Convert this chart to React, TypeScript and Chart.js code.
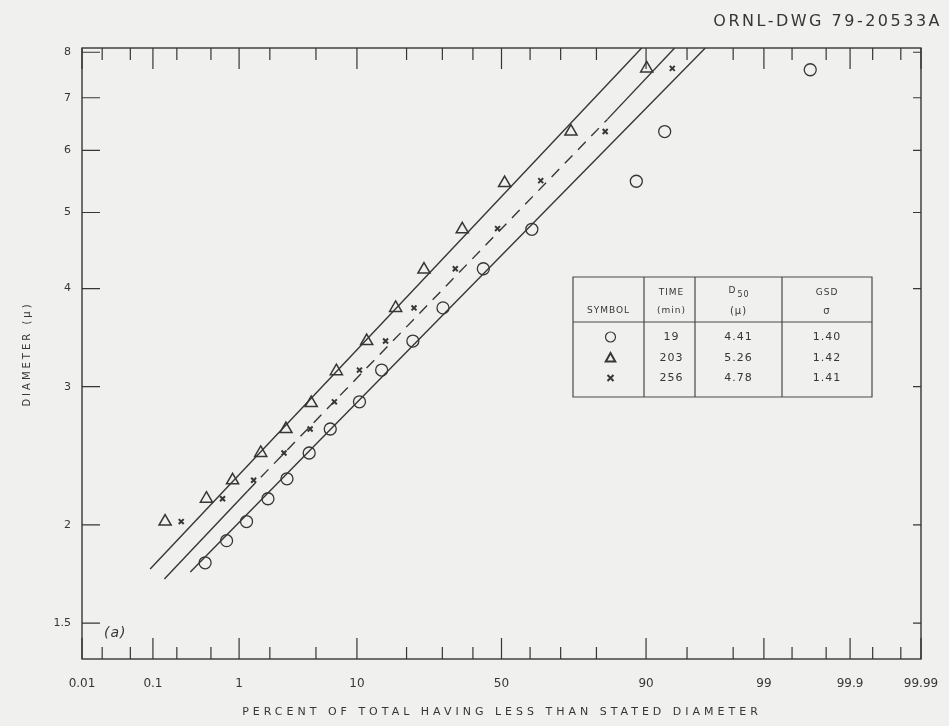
import React, { useEffect, useRef } from 'react';
import { Chart, registerables } from 'chart.js';

Chart.register(...registerables);

// ---- axis ticks ----
const xTickPercents = [0.01, 0.1, 1, 10, 50, 90, 99, 99.9, 99.99];
const xTickLabels = ['0.01', '0.1', '1', '10', '50', '90', '99', '99.9', '99.99'];
const xMinorPercents = [0.02, 0.05, 0.2, 0.5, 2, 5, 20, 30, 40, 60, 70, 80, 95, 98, 99.5, 99.8, 99.95, 99.98];
const yTickValues = [1.5, 2, 3, 4, 5, 6, 7, 8];
const yTickLabels = ['1.5', '2', '3', '4', '5', '6', '7', '8'];

// ---- measured points (percent less than, diameter in microns) ----
const circlePercent = [0.43, 0.74, 1.19, 1.92, 2.86, 4.41, 6.45, 10.4, 14.4, 21.6, 30.2, 43.6, 60.6, 88.4, 92.6, 99.69];
const circleDiameter = [1.79, 1.91, 2.02, 2.16, 2.29, 2.47, 2.65, 2.87, 3.15, 3.43, 3.78, 4.24, 4.76, 5.48, 6.34, 7.6];
const trianglePercent = [0.143, 0.445, 0.856, 1.64, 2.8, 4.58, 7.16, 11.6, 17.4, 24.6, 36.4, 51.1, 73.1, 90.1];
const triangleDiameter = [2.02, 2.16, 2.28, 2.47, 2.65, 2.86, 3.14, 3.43, 3.78, 4.23, 4.76, 5.45, 6.34, 7.63];
const crossPercent = [0.226, 0.67, 1.4, 2.69, 4.49, 6.92, 10.4, 15.2, 21.9, 34.1, 48.6, 63.6, 82.1, 93.5];
const crossDiameter = [2.02, 2.16, 2.28, 2.47, 2.65, 2.87, 3.15, 3.43, 3.78, 4.24, 4.77, 5.49, 6.34, 7.63];

// ---- fitted lines (end points) ----
const triLinePercent = [0.092, 89.3];
const triLineDiameter = [1.758, 8.1];
const crossLinePercent = [0.14, 1.22, 82.6, 93.76];
const crossLineDiameter = [1.707, 2.21, 6.57, 8.1];
const circleLinePercent = [0.29, 96.46];
const circleLineDiameter = [1.742, 8.1];

// ---- table ----
const tableTimes = ['19', '203', '256'];
const tableD50 = ['4.41', '5.26', '4.78'];
const tableGSD = ['1.40', '1.42', '1.41'];
const tableSymbols = ['circle', 'triangle', 'crossRot'];

function probit(percent: number): number {
  const p = percent / 100;
  const a = [-3.969683028665376e1, 2.209460984245205e2, -2.759285104469687e2, 1.38357751867269e2, -3.066479806614716e1, 2.506628277459239];
  const b = [-5.447609879822406e1, 1.615858368580409e2, -1.556989798598866e2, 6.680131188771972e1, -1.328068155288572e1];
  const c = [-7.784894002430293e-3, -3.223964580411365e-1, -2.400758277161838, -2.549732539343734, 4.374664141464968, 2.938163982698783];
  const d = [7.784695709041462e-3, 3.224671290700398e-1, 2.445134137142996, 3.754408661907416];
  const plow = 0.02425;
  const phigh = 1 - plow;
  let q: number;
  let r: number;
  if (p < plow) {
    q = Math.sqrt(-2 * Math.log(p));
    return (((((c[0] * q + c[1]) * q + c[2]) * q + c[3]) * q + c[4]) * q + c[5]) / ((((d[0] * q + d[1]) * q + d[2]) * q + d[3]) * q + 1);
  }
  if (p <= phigh) {
    q = p - 0.5;
    r = q * q;
    return ((((((a[0] * r + a[1]) * r + a[2]) * r + a[3]) * r + a[4]) * r + a[5]) * q) / (((((b[0] * r + b[1]) * r + b[2]) * r + b[3]) * r + b[4]) * r + 1);
  }
  q = Math.sqrt(-2 * Math.log(1 - p));
  return -(((((c[0] * q + c[1]) * q + c[2]) * q + c[3]) * q + c[4]) * q + c[5]) / ((((d[0] * q + d[1]) * q + d[2]) * q + d[3]) * q + 1);
}

const toPoints = (ps: number[], ds: number[]) => ps.map((p, i) => ({ x: probit(p), y: ds[i] }));

const INK = '#363636';
const BG = '#f0f0ee';

function drawMarker(ctx: CanvasRenderingContext2D, style: string, x: number, y: number, r: number) {
  ctx.beginPath();
  if (style === 'circle') {
    ctx.arc(x, y, r, 0, Math.PI * 2);
    ctx.stroke();
  } else if (style === 'triangle') {
    ctx.moveTo(x, y - r);
    ctx.lineTo(x + r * 0.95, y + r * 0.7);
    ctx.lineTo(x - r * 0.95, y + r * 0.7);
    ctx.closePath();
    ctx.stroke();
  } else {
    ctx.moveTo(x - r, y - r); ctx.lineTo(x + r, y + r);
    ctx.moveTo(x + r, y - r); ctx.lineTo(x - r, y + r);
    ctx.stroke();
  }
}

const decorPlugin = {
  id: 'decor',
  beforeDraw(chart: any) {
    const { ctx, width, height } = chart;
    ctx.save();
    ctx.fillStyle = BG;
    ctx.fillRect(0, 0, width, height);
    ctx.restore();
  },
  beforeDatasetsDraw(chart: any) {
    const { ctx, chartArea: ca, scales } = chart;
    const xs = scales.x;
    const ys = scales.y;
    ctx.save();
    ctx.strokeStyle = INK;
    ctx.lineWidth = 1.4;
    ctx.strokeRect(ca.left, ca.top, ca.right - ca.left, ca.bottom - ca.top);
    ctx.lineWidth = 1.2;
    ctx.beginPath();
    const xTick = (p: number, len: number) => {
      const px = xs.getPixelForValue(probit(p));
      ctx.moveTo(px, ca.bottom);
      ctx.lineTo(px, ca.bottom - len);
      ctx.moveTo(px, ca.top);
      ctx.lineTo(px, ca.top + len);
    };
    xTickPercents.forEach((p) => xTick(p, 21));
    xMinorPercents.forEach((p) => xTick(p, 12));
    yTickValues.forEach((v) => {
      const py = ys.getPixelForValue(v);
      ctx.moveTo(ca.left, py);
      ctx.lineTo(ca.left + 18, py);
      ctx.moveTo(ca.right, py);
      ctx.lineTo(ca.right - 8, py);
    });
    ctx.stroke();

    // table
    const L = 573, C1 = 644, C2 = 695, C3 = 782, R = 872, T = 277, H = 322, B = 397;
    ctx.lineWidth = 1.2;
    ctx.strokeStyle = '#4a4a4a';
    ctx.beginPath();
    ctx.rect(L, T, R - L, B - T);
    ctx.moveTo(L, H); ctx.lineTo(R, H);
    [C1, C2, C3].forEach((cx) => { ctx.moveTo(cx, T); ctx.lineTo(cx, B); });
    ctx.stroke();

    ctx.fillStyle = INK;
    ctx.textAlign = 'center';
    ctx.textBaseline = 'middle';
    (ctx as any).letterSpacing = '1px';
    ctx.font = '9px "DejaVu Sans"';
    ctx.fillText('SYMBOL', (L + C1) / 2, 311);
    ctx.fillText('TIME', (C1 + C2) / 2 + 2, 293);
    ctx.fillText('(min)', (C1 + C2) / 2 + 2, 311);
    ctx.fillText('D', (C2 + C3) / 2 - 6, 291);
    ctx.font = '8px "DejaVu Sans"';
    ctx.fillText('50', (C2 + C3) / 2 + 5, 295);
    ctx.font = '10px "DejaVu Sans"';
    ctx.fillText('(μ)', (C2 + C3) / 2, 311);
    ctx.font = '9px "DejaVu Sans"';
    ctx.fillText('GSD', (C3 + R) / 2, 293);
    ctx.font = '10px "DejaVu Sans"';
    ctx.fillText('σ', (C3 + R) / 2, 311);
    ctx.font = '11px "DejaVu Sans"';
    const rows = [337, 358, 378];
    rows.forEach((ry, i) => {
      ctx.fillText(tableTimes[i], (C1 + C2) / 2 + 2, ry);
      ctx.fillText(tableD50[i], (C2 + C3) / 2, ry);
      ctx.fillText(tableGSD[i], (C3 + R) / 2, ry);
    });
    (ctx as any).letterSpacing = '0px';
    ctx.restore();
    rows.forEach((ry, i) => {
      ctx.save();
      ctx.strokeStyle = INK;
      ctx.lineWidth = i === 0 ? 1.2 : 2;
      drawMarker(ctx, tableSymbols[i], (L + C1) / 2 + 2, ry, i === 2 ? 3 : 5);
      ctx.restore();
    });

    // texts
    ctx.save();
    ctx.fillStyle = INK;
    ctx.textBaseline = 'middle';
    ctx.textAlign = 'right';
    (ctx as any).letterSpacing = '2.5px';
    ctx.font = '16px "DejaVu Sans"';
    ctx.fillText('ORNL-DWG 79-20533A', 942, 22);
    ctx.textAlign = 'center';
    ctx.font = '11px "DejaVu Sans"';
    (ctx as any).letterSpacing = '4px';
    ctx.fillText('PERCENT OF TOTAL HAVING LESS THAN STATED DIAMETER', 502, 712);
    ctx.save();
    ctx.translate(27, 354);
    ctx.rotate(-Math.PI / 2);
    (ctx as any).letterSpacing = '3px';
    ctx.font = '10px "DejaVu Sans"';
    ctx.fillText('DIAMETER (μ)', 0, 0);
    ctx.restore();
    (ctx as any).letterSpacing = '1px';
    ctx.font = 'italic 14px "DejaVu Sans"';
    ctx.textAlign = 'left';
    ctx.fillText('(a)', 104, 633);
    (ctx as any).letterSpacing = '0px';
    ctx.restore();
  },
};

export default function App() {
  const ref = useRef<HTMLCanvasElement | null>(null);
  useEffect(() => {
    document.body.style.margin = '0';
    if (!ref.current) return;
    const lineBase = { showLine: true, pointRadius: 0, borderColor: INK, borderWidth: 1.4, fill: false };
    const chart = new Chart(ref.current, {
      type: 'scatter',
      data: {
        datasets: [
          { ...lineBase, label: 'fit 203', data: toPoints(triLinePercent, triLineDiameter) },
          {
            ...lineBase,
            label: 'fit 256',
            data: toPoints(crossLinePercent, crossLineDiameter),
            segment: { borderDash: (c: any) => (c.p0DataIndex === 1 ? [11, 8] : undefined) },
          },
          { ...lineBase, label: 'fit 19', data: toPoints(circleLinePercent, circleLineDiameter) },
          {
            label: '19 min', data: toPoints(circlePercent, circleDiameter), pointStyle: 'circle', pointRadius: 6,
            borderColor: INK, backgroundColor: 'rgba(0,0,0,0)', pointBorderWidth: 1.3,
          },
          {
            label: '203 min', data: toPoints(trianglePercent, triangleDiameter), pointStyle: 'triangle', pointRadius: 7,
            borderColor: INK, backgroundColor: 'rgba(0,0,0,0)', pointBorderWidth: 1.5,
          },
          {
            label: '256 min', data: toPoints(crossPercent, crossDiameter), pointStyle: 'crossRot', pointRadius: 3.5,
            borderColor: INK, backgroundColor: INK, pointBorderWidth: 2,
          },
        ],
      },
      options: {
        animation: false,
        responsive: true,
        maintainAspectRatio: false,
        layout: { padding: { top: 48, right: 28, left: 0, bottom: 0 } },
        plugins: { legend: { display: false }, tooltip: { enabled: false }, title: { display: false } },
        scales: {
          x: {
            type: 'linear',
            min: probit(0.01),
            max: probit(99.99),
            grid: { display: false, drawTicks: false },
            border: { display: false },
            afterBuildTicks: (s: any) => { s.ticks = xTickPercents.map((p) => ({ value: probit(p) })); },
            afterFit: (s: any) => { s.height = 67; s.paddingLeft = 0; s.paddingRight = 0; },
            ticks: {
              autoSkip: false, maxRotation: 0, padding: 18, color: INK,
              font: { family: 'DejaVu Sans', size: 12 },
              callback: (_v: any, i: number) => xTickLabels[i],
            },
          },
          y: {
            type: 'logarithmic',
            min: 1.35,
            max: 8.1,
            grid: { display: false, drawTicks: false },
            border: { display: false },
            afterBuildTicks: (s: any) => { s.ticks = yTickValues.map((v) => ({ value: v })); },
            afterFit: (s: any) => { s.width = 82; s.paddingTop = 0; s.paddingBottom = 0; },
            ticks: {
              autoSkip: false, padding: 11, color: INK,
              font: { family: 'DejaVu Sans', size: 11 },
              callback: (_v: any, i: number) => yTickLabels[i],
            },
          },
        },
      },
      plugins: [decorPlugin],
    } as any);
    return () => chart.destroy();
  }, []);
  return (
    <div style={{ width: 949, height: 726, position: 'relative' }}>
      <canvas ref={ref} />
    </div>
  );
}
